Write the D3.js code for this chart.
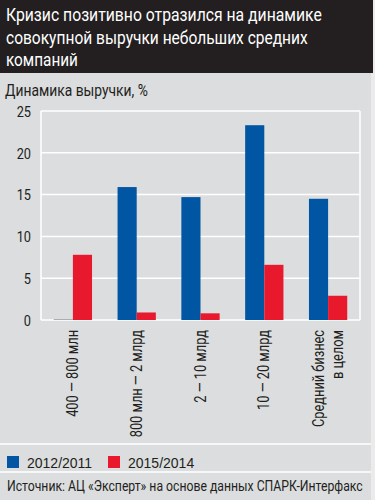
<!DOCTYPE html>
<html>
<head>
<meta charset="utf-8">
<script src="https://cdn.jsdelivr.net/npm/d3@7"></script>
<style>
	body { margin: 0; background: #f2f2f2; }
	svg { display: block; }
	text { font-family: Roboto, "DejaVu Sans Condensed", sans-serif; }
	.axis text { font-size: 15px; fill: #231f20; }
	.axis path, .axis line { stroke: none; }
	.grid line { stroke: #fff; stroke-width: 1.5; }
</style>
</head>
<body>
<div id="graphic"></div>
<script>
// chart data
const categories = ["400 — 800 млн", "800 млн — 2 млрд", "2 — 10 млрд", "10 — 20 млрд", "Средний бизнес|в целом"];
const seriesNames = ["2012/2011", "2015/2014"];
const values2012 = [0.1, 15.9, 14.7, 23.3, 14.5];
const values2015 = [7.8, 0.9, 0.8, 6.6, 2.9];
const yTicks = [0, 5, 10, 15, 20, 25];
const colours = ["#0056a2", "#e8192c"];

const width = 375, height = 500;
const margin = { top: 111, right: 15, bottom: 180, left: 41 };
const chartWidth = width - margin.left - margin.right;
const chartHeight = height - margin.top - margin.bottom;

// narrow text horizontally (the original uses a condensed face)
function squeeze(textNode, x, y, k, rotate) {
	d3.select(textNode)
		.attr('x', 0).attr('y', 0)
		.attr('transform', `translate(${x},${y})` + (rotate ? ` rotate(${rotate})` : '') + ` scale(${k},1)`);
}

let svg = d3.select('#graphic').append('svg')
	.attr('width', width)
	.attr('height', height);

// backgrounds
svg.append('rect').attr('width', width).attr('height', height).attr('fill', '#dcdddf');
svg.append('rect').attr('x', 371).attr('width', 4).attr('height', height).attr('fill', '#ebebeb');
svg.append('rect').attr('width', 373).attr('height', 73).attr('fill', '#231f20');

// title
const titleLines = ["Кризис позитивно отразился на динамике", "совокупной выручки небольших средних", "компаний"];
const titleWidths = [316, 302, 72];
svg.append('g').selectAll('text')
	.data(titleLines)
	.join('text')
	.attr('fill', '#fff')
	.style('font-size', '19px')
	.text(d => d)
	.each(function (d, i) {
		squeeze(this, 6, 21 + i * 22.7, titleWidths[i] / this.getComputedTextLength());
	});

svg.append('text')
	.attr('fill', '#231f20')
	.style('font-size', '16px')
	.text("Динамика выручки, %")
	.each(function () { squeeze(this, 5, 96, 143 / this.getComputedTextLength()); });

const g = svg.append('g').attr('transform', `translate(${margin.left},${margin.top})`);

const x0 = d3.scaleBand().domain(categories).range([0, chartWidth]).paddingInner(0.4).paddingOuter(0.2);
const x1 = d3.scaleBand().domain(seriesNames).range([0, x0.bandwidth()]);
const y = d3.scaleLinear().domain([0, 25]).range([chartHeight, 0]);

// gridlines
g.append('g').attr('class', 'grid')
	.selectAll('line')
	.data(yTicks)
	.join('line')
	.attr('x1', 0).attr('x2', chartWidth)
	.attr('y1', d => y(d)).attr('y2', d => y(d));

// frame sides
g.append('line').attr('x1', 0).attr('x2', 0).attr('y1', 0).attr('y2', chartHeight).attr('stroke', '#fff').attr('stroke-width', 1.5);
g.append('line').attr('x1', chartWidth).attr('x2', chartWidth).attr('y1', 0).attr('y2', chartHeight).attr('stroke', '#fff').attr('stroke-width', 1.5);

// y axis
g.append('g').attr('class', 'axis')
	.call(d3.axisLeft(y).tickValues(yTicks).tickSize(0).tickPadding(10))
	.selectAll('text')
	.attr('dy', '0.35em')
	.attr('transform', 'scale(0.85,1)')
	.attr('x', -10 / 0.85);

// bars
const rows = categories.map((c, i) => ({ cat: c, vals: [values2012[i], values2015[i]] }));
g.selectAll('.group')
	.data(rows)
	.join('g')
	.attr('class', 'group')
	.attr('transform', d => `translate(${x0(d.cat)},0)`)
	.selectAll('rect')
	.data(d => d.vals.map((v, j) => ({ key: seriesNames[j], v: v, j: j })))
	.join('rect')
	.attr('x', d => x1(d.key))
	.attr('y', d => y(d.v))
	.attr('width', x1.bandwidth())
	.attr('height', d => y(0) - y(d.v))
	.attr('fill', d => d.j === 0 && d.v < 0.5 ? '#9aa0a8' : colours[d.j]);

// x axis labels, rotated
const xAxis = g.append('g').attr('class', 'axis')
	.attr('transform', `translate(0,${chartHeight})`)
	.call(d3.axisBottom(x0).tickSize(0).tickFormat(''));

xAxis.selectAll('.tick').each(function (d) {
	const lines = d.split('|');
	const grp = d3.select(this);
	lines.forEach((l, i) => {
		grp.append('text')
			.attr('text-anchor', 'end')
			.attr('fill', '#231f20')
			.style('font-size', '16px')
			.text(l)
			.each(function () {
				squeeze(this, (i - (lines.length - 1) / 2) * 19 + 5, 10, 0.8, -90);
			});
	});
});

// separators
svg.append('line').attr('x1', 0).attr('x2', 371).attr('y1', 444).attr('y2', 444).attr('stroke', '#fff').attr('stroke-width', 1.5);
svg.append('line').attr('x1', 0).attr('x2', 371).attr('y1', 472).attr('y2', 472).attr('stroke', '#fff').attr('stroke-width', 1.5);

// legend
const legend = svg.append('g').selectAll('g')
	.data(seriesNames)
	.join('g')
	.attr('transform', (d, i) => `translate(${7 + i * 101},456)`);
legend.append('rect').attr('width', 12).attr('height', 12).attr('fill', (d, i) => colours[i]);
legend.append('text')
	.attr('x', 20).attr('y', 11.5)
	.attr('fill', '#231f20')
	.style('font-family', '"Liberation Sans", Arial, sans-serif')
	.style('font-size', '14px')
	.text(d => d);

// source
svg.append('text')
	.attr('fill', '#231f20')
	.style('font-size', '15px')
	.text("Источник: АЦ «Эксперт» на основе данных СПАРК-Интерфакс")
	.each(function () { squeeze(this, 7, 491, 356 / this.getComputedTextLength()); });
</script>
</body>
</html>
